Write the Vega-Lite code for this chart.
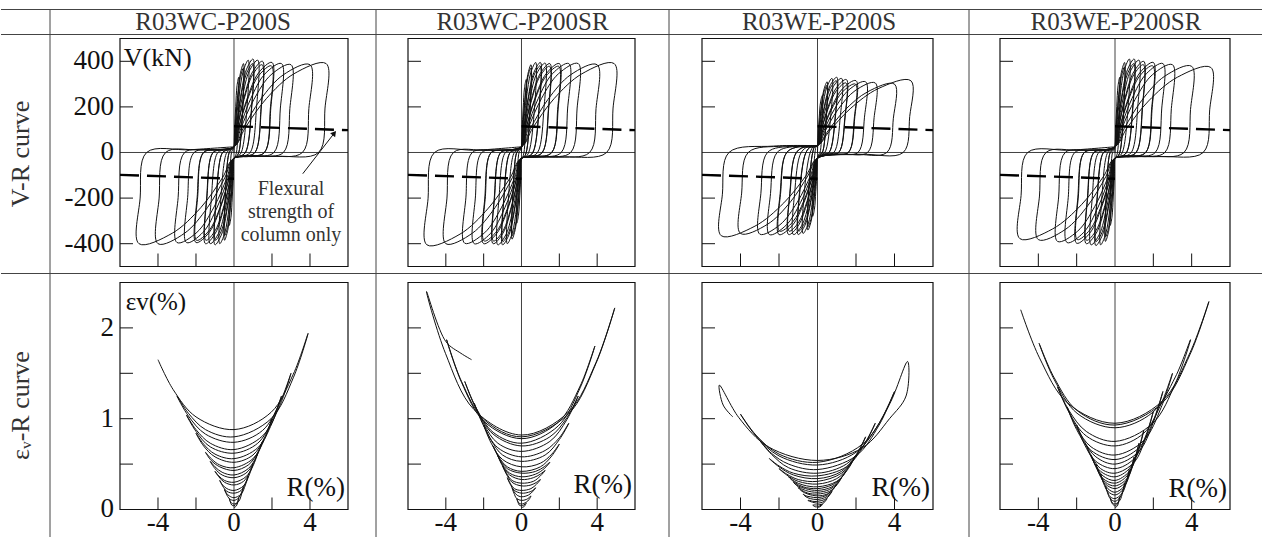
{
"$schema": "https://vega.github.io/schema/vega-lite/v6.json",
"padding": {"left": 0, "top": 8.5, "right": 0, "bottom": 0},
"background": "white",
"columns": 5,
"spacing": 0,
"bounds": "flush",
"align": "each",
"config": {"view": {"stroke": null}, "font": "Liberation Serif", "text": {"font": "Liberation Serif"}},
"datasets": {
"tx": [{"v": -4}, {"v": -2}, {"v": 2}, {"v": 4}],
"t1y": [{"v": -400}, {"v": -200}, {"v": 200}, {"v": 400}],
"l1y": [{"v": -400}, {"v": -200}, {"v": 0}, {"v": 200}, {"v": 400}],
"t2y": [{"v": 0.5}, {"v": 1}, {"v": 1.5}, {"v": 2}],
"l2x": [{"v": -4}, {"v": 0}, {"v": 4}],
"l2y": [{"v": 0}, {"v": 1}, {"v": 2}],
"vrBox": [{"x": -6, "x2": 6, "y": -500, "y2": 500}],
"vrZero": [{"x": -6, "x2": 6, "y": 0, "y2": 0}, {"x": 0, "x2": 0, "y": -500, "y2": 500}],
"vrDash": [{"x": 0, "x2": 6, "y": 115, "y2": 98}, {"x": -6, "x2": 0, "y": -98, "y2": -115}],
"evBox": [{"x": -6, "x2": 6, "y": 0, "y2": 2.5}],
"evZero": [{"x": 0, "x2": 0, "y": 0, "y2": 2.5}],
"vr1": [{"x":0,"y":0},
{"x":0.03,"y":94},{"x":0.09,"y":201},{"x":0.16,"y":293},{"x":0.25,"y":330},{"x":0.23,"y":165},{"x":0.13,"y":0},{"x":0.06,"y":-17},{"x":0,"y":-25},{"x":-0.03,"y":-92},{"x":-0.09,"y":-195},{"x":-0.16,"y":-284},{"x":-0.25,"y":-320},{"x":-0.23,"y":-160},{"x":-0.13,"y":0},{"x":-0.06,"y":12},{"x":0,"y":25},
{"x":0.06,"y":107},{"x":0.18,"y":236},{"x":0.33,"y":345},{"x":0.5,"y":390},{"x":0.46,"y":195},{"x":0.25,"y":0},{"x":0.13,"y":-17},{"x":0,"y":-25},{"x":-0.06,"y":-106},{"x":-0.18,"y":-233},{"x":-0.33,"y":-341},{"x":-0.5,"y":-385},{"x":-0.46,"y":-193},{"x":-0.25,"y":0},{"x":-0.13,"y":12},{"x":0,"y":25},
{"x":0.06,"y":103},{"x":0.18,"y":224},{"x":0.33,"y":328},{"x":0.49,"y":370},{"x":0.45,"y":185},{"x":0.25,"y":0},{"x":0.13,"y":-17},{"x":0,"y":-25},{"x":-0.06,"y":-102},{"x":-0.18,"y":-221},{"x":-0.33,"y":-323},{"x":-0.49,"y":-365},{"x":-0.45,"y":-183},{"x":-0.25,"y":0},{"x":-0.13,"y":12},{"x":0,"y":25},
{"x":0.09,"y":111},{"x":0.26,"y":244},{"x":0.49,"y":358},{"x":0.75,"y":405},{"x":0.69,"y":203},{"x":0.38,"y":0},{"x":0.19,"y":-17},{"x":0,"y":-25},{"x":-0.09,"y":-110},{"x":-0.26,"y":-242},{"x":-0.49,"y":-354},{"x":-0.75,"y":-400},{"x":-0.69,"y":-200},{"x":-0.38,"y":0},{"x":-0.19,"y":12},{"x":0,"y":25},
{"x":0.12,"y":112},{"x":0.35,"y":247},{"x":0.65,"y":363},{"x":1,"y":410},{"x":0.94,"y":205},{"x":0.6,"y":0},{"x":0.3,"y":-17},{"x":0,"y":-25},{"x":-0.12,"y":-111},{"x":-0.35,"y":-244},{"x":-0.65,"y":-358},{"x":-1,"y":-405},{"x":-0.94,"y":-203},{"x":-0.6,"y":0},{"x":-0.3,"y":12},{"x":0,"y":25},
{"x":0.12,"y":107},{"x":0.35,"y":236},{"x":0.65,"y":345},{"x":0.98,"y":390},{"x":0.92,"y":195},{"x":0.6,"y":0},{"x":0.3,"y":-17},{"x":0,"y":-25},{"x":-0.12,"y":-106},{"x":-0.35,"y":-233},{"x":-0.65,"y":-341},{"x":-0.98,"y":-385},{"x":-0.92,"y":-193},{"x":-0.6,"y":0},{"x":-0.3,"y":12},{"x":0,"y":25},
{"x":0.15,"y":111},{"x":0.44,"y":244},{"x":0.81,"y":358},{"x":1.25,"y":405},{"x":1.19,"y":203},{"x":0.85,"y":0},{"x":0.43,"y":-17},{"x":0,"y":-25},{"x":-0.15,"y":-110},{"x":-0.44,"y":-242},{"x":-0.81,"y":-354},{"x":-1.25,"y":-400},{"x":-1.19,"y":-200},{"x":-0.85,"y":0},{"x":-0.43,"y":12},{"x":0,"y":25},
{"x":0.18,"y":110},{"x":0.53,"y":242},{"x":0.98,"y":354},{"x":1.5,"y":400},{"x":1.44,"y":200},{"x":1.1,"y":0},{"x":0.55,"y":-17},{"x":0,"y":-25},{"x":-0.18,"y":-110},{"x":-0.53,"y":-242},{"x":-0.98,"y":-354},{"x":-1.5,"y":-400},{"x":-1.44,"y":-200},{"x":-1.1,"y":0},{"x":-0.55,"y":12},{"x":0,"y":25},
{"x":0.18,"y":106},{"x":0.53,"y":233},{"x":0.98,"y":341},{"x":1.48,"y":385},{"x":1.42,"y":193},{"x":1.1,"y":0},{"x":0.55,"y":-17},{"x":0,"y":-25},{"x":-0.18,"y":-106},{"x":-0.53,"y":-233},{"x":-0.98,"y":-341},{"x":-1.48,"y":-385},{"x":-1.42,"y":-193},{"x":-1.1,"y":0},{"x":-0.55,"y":12},{"x":0,"y":25},
{"x":0.24,"y":108},{"x":0.7,"y":239},{"x":1.3,"y":350},{"x":2,"y":395},{"x":1.94,"y":198},{"x":1.6,"y":0},{"x":0.8,"y":-17},{"x":0,"y":-25},{"x":-0.24,"y":-108},{"x":-0.7,"y":-239},{"x":-1.3,"y":-350},{"x":-2,"y":-395},{"x":-1.94,"y":-198},{"x":-1.6,"y":0},{"x":-0.8,"y":12},{"x":0,"y":25},
{"x":0.24,"y":105},{"x":0.7,"y":230},{"x":1.3,"y":337},{"x":1.97,"y":380},{"x":1.91,"y":190},{"x":1.6,"y":0},{"x":0.8,"y":-17},{"x":0,"y":-25},{"x":-0.24,"y":-106},{"x":-0.7,"y":-233},{"x":-1.3,"y":-341},{"x":-1.97,"y":-385},{"x":-1.91,"y":-193},{"x":-1.6,"y":0},{"x":-0.8,"y":12},{"x":0,"y":25},
{"x":0.3,"y":107},{"x":0.88,"y":236},{"x":1.63,"y":345},{"x":2.5,"y":390},{"x":2.44,"y":195},{"x":2.1,"y":0},{"x":1.05,"y":-17},{"x":0,"y":-25},{"x":-0.3,"y":-108},{"x":-0.88,"y":-239},{"x":-1.63,"y":-350},{"x":-2.5,"y":-395},{"x":-2.44,"y":-198},{"x":-2.1,"y":0},{"x":-1.05,"y":12},{"x":0,"y":25},
{"x":0.36,"y":106},{"x":1.05,"y":233},{"x":1.95,"y":341},{"x":3,"y":385},{"x":2.94,"y":193},{"x":2.6,"y":0},{"x":1.3,"y":-17},{"x":0,"y":-25},{"x":-0.36,"y":-108},{"x":-1.05,"y":-239},{"x":-1.95,"y":-350},{"x":-3,"y":-395},{"x":-2.94,"y":-198},{"x":-2.6,"y":0},{"x":-1.3,"y":12},{"x":0,"y":25},
{"x":0.48,"y":106},{"x":1.4,"y":233},{"x":2.6,"y":341},{"x":4,"y":385},{"x":3.94,"y":193},{"x":3.6,"y":0},{"x":1.8,"y":-17},{"x":0,"y":-25},{"x":-0.48,"y":-110},{"x":-1.4,"y":-242},{"x":-2.6,"y":-354},{"x":-4,"y":-400},{"x":-3.94,"y":-200},{"x":-3.6,"y":0},{"x":-1.8,"y":12},{"x":0,"y":25},
{"x":0.58,"y":107},{"x":1.7,"y":236},{"x":3.15,"y":345},{"x":4.85,"y":390},{"x":4.79,"y":195},{"x":4.45,"y":0},{"x":2.23,"y":-17},{"x":0,"y":-25},{"x":-0.6,"y":-110},{"x":-1.75,"y":-242},{"x":-3.25,"y":-354},{"x":-5,"y":-400},{"x":-4.94,"y":-200},{"x":-4.6,"y":0},{"x":-2.3,"y":12},{"x":0,"y":25}],
"vr2": [{"x":0,"y":0},
{"x":0.03,"y":92},{"x":0.09,"y":195},{"x":0.16,"y":284},{"x":0.25,"y":320},{"x":0.23,"y":160},{"x":0.13,"y":0},{"x":0.06,"y":-20},{"x":0,"y":-25},{"x":-0.03,"y":-89},{"x":-0.09,"y":-190},{"x":-0.16,"y":-275},{"x":-0.25,"y":-310},{"x":-0.23,"y":-155},{"x":-0.13,"y":0},{"x":-0.06,"y":10},{"x":0,"y":25},
{"x":0.06,"y":106},{"x":0.18,"y":233},{"x":0.33,"y":341},{"x":0.5,"y":385},{"x":0.46,"y":193},{"x":0.25,"y":0},{"x":0.13,"y":-20},{"x":0,"y":-25},{"x":-0.06,"y":-105},{"x":-0.18,"y":-230},{"x":-0.33,"y":-337},{"x":-0.5,"y":-380},{"x":-0.46,"y":-190},{"x":-0.25,"y":0},{"x":-0.13,"y":10},{"x":0,"y":25},
{"x":0.06,"y":103},{"x":0.18,"y":224},{"x":0.33,"y":328},{"x":0.49,"y":370},{"x":0.45,"y":185},{"x":0.25,"y":0},{"x":0.13,"y":-20},{"x":0,"y":-25},{"x":-0.06,"y":-102},{"x":-0.18,"y":-221},{"x":-0.33,"y":-323},{"x":-0.49,"y":-365},{"x":-0.45,"y":-183},{"x":-0.25,"y":0},{"x":-0.13,"y":10},{"x":0,"y":25},
{"x":0.09,"y":108},{"x":0.26,"y":239},{"x":0.49,"y":350},{"x":0.75,"y":395},{"x":0.69,"y":198},{"x":0.38,"y":0},{"x":0.19,"y":-20},{"x":0,"y":-25},{"x":-0.09,"y":-110},{"x":-0.26,"y":-242},{"x":-0.49,"y":-354},{"x":-0.75,"y":-400},{"x":-0.69,"y":-200},{"x":-0.38,"y":0},{"x":-0.19,"y":10},{"x":0,"y":25},
{"x":0.12,"y":108},{"x":0.35,"y":239},{"x":0.65,"y":350},{"x":1,"y":395},{"x":0.94,"y":198},{"x":0.6,"y":0},{"x":0.3,"y":-20},{"x":0,"y":-25},{"x":-0.12,"y":-111},{"x":-0.35,"y":-244},{"x":-0.65,"y":-358},{"x":-1,"y":-405},{"x":-0.94,"y":-203},{"x":-0.6,"y":0},{"x":-0.3,"y":10},{"x":0,"y":25},
{"x":0.12,"y":105},{"x":0.35,"y":230},{"x":0.65,"y":337},{"x":0.98,"y":380},{"x":0.92,"y":190},{"x":0.6,"y":0},{"x":0.3,"y":-20},{"x":0,"y":-25},{"x":-0.12,"y":-107},{"x":-0.35,"y":-236},{"x":-0.65,"y":-345},{"x":-0.98,"y":-390},{"x":-0.92,"y":-195},{"x":-0.6,"y":0},{"x":-0.3,"y":10},{"x":0,"y":25},
{"x":0.15,"y":108},{"x":0.44,"y":237},{"x":0.81,"y":347},{"x":1.25,"y":392},{"x":1.19,"y":196},{"x":0.85,"y":0},{"x":0.43,"y":-20},{"x":0,"y":-25},{"x":-0.15,"y":-111},{"x":-0.44,"y":-244},{"x":-0.81,"y":-358},{"x":-1.25,"y":-405},{"x":-1.19,"y":-203},{"x":-0.85,"y":0},{"x":-0.43,"y":10},{"x":0,"y":25},
{"x":0.18,"y":107},{"x":0.53,"y":236},{"x":0.98,"y":345},{"x":1.5,"y":390},{"x":1.44,"y":195},{"x":1.1,"y":0},{"x":0.55,"y":-20},{"x":0,"y":-25},{"x":-0.18,"y":-110},{"x":-0.53,"y":-242},{"x":-0.98,"y":-354},{"x":-1.5,"y":-400},{"x":-1.44,"y":-200},{"x":-1.1,"y":0},{"x":-0.55,"y":10},{"x":0,"y":25},
{"x":0.18,"y":105},{"x":0.53,"y":229},{"x":0.98,"y":335},{"x":1.48,"y":378},{"x":1.42,"y":189},{"x":1.1,"y":0},{"x":0.55,"y":-20},{"x":0,"y":-25},{"x":-0.18,"y":-107},{"x":-0.53,"y":-235},{"x":-0.98,"y":-344},{"x":-1.48,"y":-388},{"x":-1.42,"y":-194},{"x":-1.1,"y":0},{"x":-0.55,"y":10},{"x":0,"y":25},
{"x":0.24,"y":107},{"x":0.7,"y":236},{"x":1.3,"y":345},{"x":2,"y":390},{"x":1.94,"y":195},{"x":1.6,"y":0},{"x":0.8,"y":-20},{"x":0,"y":-25},{"x":-0.24,"y":-110},{"x":-0.7,"y":-242},{"x":-1.3,"y":-354},{"x":-2,"y":-400},{"x":-1.94,"y":-200},{"x":-1.6,"y":0},{"x":-0.8,"y":10},{"x":0,"y":25},
{"x":0.24,"y":105},{"x":0.7,"y":229},{"x":1.3,"y":335},{"x":1.97,"y":378},{"x":1.91,"y":189},{"x":1.6,"y":0},{"x":0.8,"y":-20},{"x":0,"y":-25},{"x":-0.24,"y":-107},{"x":-0.7,"y":-235},{"x":-1.3,"y":-344},{"x":-1.97,"y":-388},{"x":-1.91,"y":-194},{"x":-1.6,"y":0},{"x":-0.8,"y":10},{"x":0,"y":25},
{"x":0.3,"y":107},{"x":0.88,"y":236},{"x":1.63,"y":345},{"x":2.5,"y":390},{"x":2.44,"y":195},{"x":2.1,"y":0},{"x":1.05,"y":-20},{"x":0,"y":-25},{"x":-0.3,"y":-110},{"x":-0.88,"y":-242},{"x":-1.63,"y":-354},{"x":-2.5,"y":-400},{"x":-2.44,"y":-200},{"x":-2.1,"y":0},{"x":-1.05,"y":10},{"x":0,"y":25},
{"x":0.36,"y":107},{"x":1.05,"y":236},{"x":1.95,"y":345},{"x":3,"y":390},{"x":2.94,"y":195},{"x":2.6,"y":0},{"x":1.3,"y":-20},{"x":0,"y":-25},{"x":-0.36,"y":-109},{"x":-1.05,"y":-240},{"x":-1.95,"y":-352},{"x":-3,"y":-398},{"x":-2.94,"y":-199},{"x":-2.6,"y":0},{"x":-1.3,"y":10},{"x":0,"y":25},
{"x":0.48,"y":106},{"x":1.4,"y":233},{"x":2.6,"y":341},{"x":4,"y":385},{"x":3.94,"y":193},{"x":3.6,"y":0},{"x":1.8,"y":-20},{"x":0,"y":-25},{"x":-0.48,"y":-110},{"x":-1.4,"y":-242},{"x":-2.6,"y":-354},{"x":-4,"y":-400},{"x":-3.94,"y":-200},{"x":-3.6,"y":0},{"x":-1.8,"y":10},{"x":0,"y":25},
{"x":0.59,"y":107},{"x":1.72,"y":236},{"x":3.19,"y":345},{"x":4.9,"y":390},{"x":4.84,"y":195},{"x":4.5,"y":0},{"x":2.25,"y":-20},{"x":0,"y":-25},{"x":-0.6,"y":-111},{"x":-1.75,"y":-244},{"x":-3.25,"y":-358},{"x":-5,"y":-405},{"x":-4.94,"y":-203},{"x":-4.6,"y":0},{"x":-2.3,"y":10},{"x":0,"y":25}],
"vr3": [{"x":0,"y":0},
{"x":0.03,"y":76},{"x":0.09,"y":155},{"x":0.16,"y":222},{"x":0.25,"y":250},{"x":0.23,"y":125},{"x":0.13,"y":0},{"x":0.06,"y":-8},{"x":0,"y":-25},{"x":-0.03,"y":-83},{"x":-0.09,"y":-172},{"x":-0.16,"y":-249},{"x":-0.25,"y":-280},{"x":-0.23,"y":-140},{"x":-0.13,"y":0},{"x":-0.06,"y":28},{"x":0,"y":30},
{"x":0.06,"y":89},{"x":0.18,"y":190},{"x":0.33,"y":275},{"x":0.5,"y":310},{"x":0.46,"y":155},{"x":0.25,"y":0},{"x":0.13,"y":-8},{"x":0,"y":-25},{"x":-0.06,"y":-96},{"x":-0.18,"y":-207},{"x":-0.33,"y":-301},{"x":-0.5,"y":-340},{"x":-0.46,"y":-170},{"x":-0.25,"y":0},{"x":-0.13,"y":28},{"x":0,"y":30},
{"x":0.06,"y":86},{"x":0.18,"y":181},{"x":0.33,"y":262},{"x":0.49,"y":295},{"x":0.45,"y":148},{"x":0.25,"y":0},{"x":0.13,"y":-8},{"x":0,"y":-25},{"x":-0.06,"y":-93},{"x":-0.18,"y":-198},{"x":-0.33,"y":-288},{"x":-0.49,"y":-325},{"x":-0.45,"y":-163},{"x":-0.25,"y":0},{"x":-0.13,"y":28},{"x":0,"y":30},
{"x":0.09,"y":93},{"x":0.26,"y":198},{"x":0.49,"y":288},{"x":0.75,"y":325},{"x":0.69,"y":163},{"x":0.38,"y":0},{"x":0.19,"y":-8},{"x":0,"y":-25},{"x":-0.09,"y":-99},{"x":-0.26,"y":-216},{"x":-0.49,"y":-315},{"x":-0.75,"y":-355},{"x":-0.69,"y":-178},{"x":-0.38,"y":0},{"x":-0.19,"y":28},{"x":0,"y":30},
{"x":0.12,"y":94},{"x":0.35,"y":201},{"x":0.65,"y":293},{"x":1,"y":330},{"x":0.94,"y":165},{"x":0.6,"y":0},{"x":0.3,"y":-8},{"x":0,"y":-25},{"x":-0.12,"y":-101},{"x":-0.35,"y":-219},{"x":-0.65,"y":-319},{"x":-1,"y":-360},{"x":-0.94,"y":-180},{"x":-0.6,"y":0},{"x":-0.3,"y":28},{"x":0,"y":30},
{"x":0.12,"y":90},{"x":0.35,"y":192},{"x":0.65,"y":280},{"x":0.98,"y":315},{"x":0.92,"y":158},{"x":0.6,"y":0},{"x":0.3,"y":-8},{"x":0,"y":-25},{"x":-0.12,"y":-97},{"x":-0.35,"y":-210},{"x":-0.65,"y":-306},{"x":-0.98,"y":-345},{"x":-0.92,"y":-173},{"x":-0.6,"y":0},{"x":-0.3,"y":28},{"x":0,"y":30},
{"x":0.15,"y":93},{"x":0.44,"y":198},{"x":0.81,"y":288},{"x":1.25,"y":325},{"x":1.19,"y":163},{"x":0.85,"y":0},{"x":0.43,"y":-8},{"x":0,"y":-25},{"x":-0.15,"y":-101},{"x":-0.44,"y":-219},{"x":-0.81,"y":-319},{"x":-1.25,"y":-360},{"x":-1.19,"y":-180},{"x":-0.85,"y":0},{"x":-0.43,"y":28},{"x":0,"y":30},
{"x":0.18,"y":92},{"x":0.53,"y":195},{"x":0.98,"y":284},{"x":1.5,"y":320},{"x":1.44,"y":160},{"x":1.1,"y":0},{"x":0.55,"y":-8},{"x":0,"y":-25},{"x":-0.18,"y":-101},{"x":-0.53,"y":-219},{"x":-0.98,"y":-319},{"x":-1.5,"y":-360},{"x":-1.44,"y":-180},{"x":-1.1,"y":0},{"x":-0.55,"y":28},{"x":0,"y":30},
{"x":0.18,"y":88},{"x":0.53,"y":187},{"x":0.98,"y":271},{"x":1.48,"y":305},{"x":1.42,"y":153},{"x":1.1,"y":0},{"x":0.55,"y":-8},{"x":0,"y":-25},{"x":-0.18,"y":-97},{"x":-0.53,"y":-210},{"x":-0.98,"y":-306},{"x":-1.48,"y":-345},{"x":-1.42,"y":-173},{"x":-1.1,"y":0},{"x":-0.55,"y":28},{"x":0,"y":30},
{"x":0.24,"y":90},{"x":0.7,"y":192},{"x":1.3,"y":280},{"x":2,"y":315},{"x":1.94,"y":158},{"x":1.6,"y":0},{"x":0.8,"y":-8},{"x":0,"y":-25},{"x":-0.24,"y":-101},{"x":-0.7,"y":-219},{"x":-1.3,"y":-319},{"x":-2,"y":-360},{"x":-1.94,"y":-180},{"x":-1.6,"y":0},{"x":-0.8,"y":28},{"x":0,"y":30},
{"x":0.24,"y":87},{"x":0.7,"y":184},{"x":1.3,"y":266},{"x":1.97,"y":300},{"x":1.91,"y":150},{"x":1.6,"y":0},{"x":0.8,"y":-8},{"x":0,"y":-25},{"x":-0.24,"y":-97},{"x":-0.7,"y":-210},{"x":-1.3,"y":-306},{"x":-1.97,"y":-345},{"x":-1.91,"y":-173},{"x":-1.6,"y":0},{"x":-0.8,"y":28},{"x":0,"y":30},
{"x":0.3,"y":89},{"x":0.88,"y":190},{"x":1.63,"y":275},{"x":2.5,"y":310},{"x":2.44,"y":155},{"x":2.1,"y":0},{"x":1.05,"y":-8},{"x":0,"y":-25},{"x":-0.3,"y":-101},{"x":-0.88,"y":-219},{"x":-1.63,"y":-319},{"x":-2.5,"y":-360},{"x":-2.44,"y":-180},{"x":-2.1,"y":0},{"x":-1.05,"y":28},{"x":0,"y":30},
{"x":0.36,"y":88},{"x":1.05,"y":187},{"x":1.95,"y":271},{"x":3,"y":305},{"x":2.94,"y":153},{"x":2.6,"y":0},{"x":1.3,"y":-8},{"x":0,"y":-25},{"x":-0.36,"y":-101},{"x":-1.05,"y":-218},{"x":-1.95,"y":-317},{"x":-3,"y":-358},{"x":-2.94,"y":-179},{"x":-2.6,"y":0},{"x":-1.3,"y":28},{"x":0,"y":30},
{"x":0.48,"y":87},{"x":1.4,"y":184},{"x":2.6,"y":266},{"x":4,"y":300},{"x":3.94,"y":150},{"x":3.6,"y":0},{"x":1.8,"y":-8},{"x":0,"y":-25},{"x":-0.48,"y":-99},{"x":-1.4,"y":-216},{"x":-2.6,"y":-315},{"x":-4,"y":-355},{"x":-3.94,"y":-178},{"x":-3.6,"y":0},{"x":-1.8,"y":28},{"x":0,"y":30},
{"x":0.58,"y":90},{"x":1.7,"y":192},{"x":3.15,"y":280},{"x":4.85,"y":315},{"x":4.79,"y":158},{"x":4.45,"y":0},{"x":2.23,"y":-8},{"x":0,"y":-25},{"x":-0.6,"y":-102},{"x":-1.75,"y":-221},{"x":-3.25,"y":-323},{"x":-5,"y":-365},{"x":-4.94,"y":-183},{"x":-4.6,"y":0},{"x":-2.3,"y":28},{"x":0,"y":30}],
"vr4": [{"x":0,"y":0},
{"x":0.03,"y":94},{"x":0.09,"y":201},{"x":0.16,"y":293},{"x":0.25,"y":330},{"x":0.23,"y":165},{"x":0.13,"y":0},{"x":0.06,"y":-18},{"x":0,"y":-25},{"x":-0.03,"y":-92},{"x":-0.09,"y":-195},{"x":-0.16,"y":-284},{"x":-0.25,"y":-320},{"x":-0.23,"y":-160},{"x":-0.13,"y":0},{"x":-0.06,"y":10},{"x":0,"y":25},
{"x":0.06,"y":108},{"x":0.18,"y":239},{"x":0.33,"y":350},{"x":0.5,"y":395},{"x":0.46,"y":198},{"x":0.25,"y":0},{"x":0.13,"y":-18},{"x":0,"y":-25},{"x":-0.06,"y":-107},{"x":-0.18,"y":-236},{"x":-0.33,"y":-345},{"x":-0.5,"y":-390},{"x":-0.46,"y":-195},{"x":-0.25,"y":0},{"x":-0.13,"y":10},{"x":0,"y":25},
{"x":0.06,"y":104},{"x":0.18,"y":227},{"x":0.33,"y":332},{"x":0.49,"y":375},{"x":0.45,"y":188},{"x":0.25,"y":0},{"x":0.13,"y":-18},{"x":0,"y":-25},{"x":-0.06,"y":-103},{"x":-0.18,"y":-224},{"x":-0.33,"y":-328},{"x":-0.49,"y":-370},{"x":-0.45,"y":-185},{"x":-0.25,"y":0},{"x":-0.13,"y":10},{"x":0,"y":25},
{"x":0.09,"y":112},{"x":0.26,"y":247},{"x":0.49,"y":363},{"x":0.75,"y":410},{"x":0.69,"y":205},{"x":0.38,"y":0},{"x":0.19,"y":-18},{"x":0,"y":-25},{"x":-0.09,"y":-111},{"x":-0.26,"y":-244},{"x":-0.49,"y":-358},{"x":-0.75,"y":-405},{"x":-0.69,"y":-203},{"x":-0.38,"y":0},{"x":-0.19,"y":10},{"x":0,"y":25},
{"x":0.12,"y":112},{"x":0.35,"y":247},{"x":0.65,"y":363},{"x":1,"y":410},{"x":0.94,"y":205},{"x":0.6,"y":0},{"x":0.3,"y":-18},{"x":0,"y":-25},{"x":-0.12,"y":-111},{"x":-0.35,"y":-246},{"x":-0.65,"y":-361},{"x":-1,"y":-408},{"x":-0.94,"y":-204},{"x":-0.6,"y":0},{"x":-0.3,"y":10},{"x":0,"y":25},
{"x":0.12,"y":107},{"x":0.35,"y":236},{"x":0.65,"y":345},{"x":0.98,"y":390},{"x":0.92,"y":195},{"x":0.6,"y":0},{"x":0.3,"y":-18},{"x":0,"y":-25},{"x":-0.12,"y":-107},{"x":-0.35,"y":-236},{"x":-0.65,"y":-345},{"x":-0.98,"y":-390},{"x":-0.92,"y":-195},{"x":-0.6,"y":0},{"x":-0.3,"y":10},{"x":0,"y":25},
{"x":0.15,"y":111},{"x":0.44,"y":244},{"x":0.81,"y":358},{"x":1.25,"y":405},{"x":1.19,"y":203},{"x":0.85,"y":0},{"x":0.43,"y":-18},{"x":0,"y":-25},{"x":-0.15,"y":-111},{"x":-0.44,"y":-244},{"x":-0.81,"y":-358},{"x":-1.25,"y":-405},{"x":-1.19,"y":-203},{"x":-0.85,"y":0},{"x":-0.43,"y":10},{"x":0,"y":25},
{"x":0.18,"y":110},{"x":0.53,"y":242},{"x":0.98,"y":354},{"x":1.5,"y":400},{"x":1.44,"y":200},{"x":1.1,"y":0},{"x":0.55,"y":-18},{"x":0,"y":-25},{"x":-0.18,"y":-110},{"x":-0.53,"y":-242},{"x":-0.98,"y":-354},{"x":-1.5,"y":-400},{"x":-1.44,"y":-200},{"x":-1.1,"y":0},{"x":-0.55,"y":10},{"x":0,"y":25},
{"x":0.18,"y":106},{"x":0.53,"y":233},{"x":0.98,"y":341},{"x":1.48,"y":385},{"x":1.42,"y":193},{"x":1.1,"y":0},{"x":0.55,"y":-18},{"x":0,"y":-25},{"x":-0.18,"y":-106},{"x":-0.53,"y":-233},{"x":-0.98,"y":-341},{"x":-1.48,"y":-385},{"x":-1.42,"y":-193},{"x":-1.1,"y":0},{"x":-0.55,"y":10},{"x":0,"y":25},
{"x":0.24,"y":108},{"x":0.7,"y":239},{"x":1.3,"y":350},{"x":2,"y":395},{"x":1.94,"y":198},{"x":1.6,"y":0},{"x":0.8,"y":-18},{"x":0,"y":-25},{"x":-0.24,"y":-109},{"x":-0.7,"y":-240},{"x":-1.3,"y":-352},{"x":-2,"y":-398},{"x":-1.94,"y":-199},{"x":-1.6,"y":0},{"x":-0.8,"y":10},{"x":0,"y":25},
{"x":0.24,"y":105},{"x":0.7,"y":230},{"x":1.3,"y":337},{"x":1.97,"y":380},{"x":1.91,"y":190},{"x":1.6,"y":0},{"x":0.8,"y":-18},{"x":0,"y":-25},{"x":-0.24,"y":-106},{"x":-0.7,"y":-231},{"x":-1.3,"y":-338},{"x":-1.97,"y":-382},{"x":-1.91,"y":-191},{"x":-1.6,"y":0},{"x":-0.8,"y":10},{"x":0,"y":25},
{"x":0.3,"y":107},{"x":0.88,"y":236},{"x":1.63,"y":345},{"x":2.5,"y":390},{"x":2.44,"y":195},{"x":2.1,"y":0},{"x":1.05,"y":-18},{"x":0,"y":-25},{"x":-0.3,"y":-108},{"x":-0.88,"y":-239},{"x":-1.63,"y":-350},{"x":-2.5,"y":-395},{"x":-2.44,"y":-198},{"x":-2.1,"y":0},{"x":-1.05,"y":10},{"x":0,"y":25},
{"x":0.36,"y":106},{"x":1.05,"y":233},{"x":1.95,"y":341},{"x":3,"y":385},{"x":2.94,"y":193},{"x":2.6,"y":0},{"x":1.3,"y":-18},{"x":0,"y":-25},{"x":-0.36,"y":-107},{"x":-1.05,"y":-236},{"x":-1.95,"y":-345},{"x":-3,"y":-390},{"x":-2.94,"y":-195},{"x":-2.6,"y":0},{"x":-1.3,"y":10},{"x":0,"y":25},
{"x":0.48,"y":105},{"x":1.4,"y":229},{"x":2.6,"y":335},{"x":4,"y":378},{"x":3.94,"y":189},{"x":3.6,"y":0},{"x":1.8,"y":-18},{"x":0,"y":-25},{"x":-0.48,"y":-106},{"x":-1.4,"y":-231},{"x":-2.6,"y":-338},{"x":-4,"y":-382},{"x":-3.94,"y":-191},{"x":-3.6,"y":0},{"x":-1.8,"y":10},{"x":0,"y":25},
{"x":0.6,"y":104},{"x":1.75,"y":226},{"x":3.25,"y":330},{"x":5,"y":373},{"x":4.94,"y":187},{"x":4.6,"y":0},{"x":2.3,"y":-18},{"x":0,"y":-25},{"x":-0.6,"y":-105},{"x":-1.75,"y":-229},{"x":-3.25,"y":-335},{"x":-4.96,"y":-378},{"x":-4.9,"y":-189},{"x":-4.56,"y":0},{"x":-2.3,"y":10},{"x":0,"y":25}],
"ev1": [{"x":0,"y":0.02},
{"x":0.125,"y":0.04},{"x":0.2,"y":0.08},{"x":0.25,"y":0.13},{"x":0.2,"y":0.09},{"x":0.125,"y":0.06},{"x":0,"y":0.04},{"x":-0.125,"y":0.05},{"x":-0.2,"y":0.09},{"x":-0.25,"y":0.12},{"x":-0.2,"y":0.09},{"x":-0.125,"y":0.07},{"x":0,"y":0.06},
{"x":0.25,"y":0.09},{"x":0.4,"y":0.17},{"x":0.5,"y":0.25},{"x":0.4,"y":0.19},{"x":0.25,"y":0.13},{"x":0,"y":0.1},{"x":-0.25,"y":0.12},{"x":-0.4,"y":0.17},{"x":-0.5,"y":0.22},{"x":-0.4,"y":0.18},{"x":-0.25,"y":0.15},{"x":0,"y":0.13},
{"x":0.375,"y":0.17},{"x":0.6,"y":0.27},{"x":0.75,"y":0.37},{"x":0.6,"y":0.29},{"x":0.375,"y":0.21},{"x":0,"y":0.18},{"x":-0.375,"y":0.2},{"x":-0.6,"y":0.26},{"x":-0.75,"y":0.32},{"x":-0.6,"y":0.27},{"x":-0.375,"y":0.23},{"x":0,"y":0.21},
{"x":0.5,"y":0.26},{"x":0.8,"y":0.38},{"x":1,"y":0.5},{"x":0.8,"y":0.4},{"x":0.5,"y":0.31},{"x":0,"y":0.27},{"x":-0.5,"y":0.3},{"x":-0.8,"y":0.36},{"x":-1,"y":0.42},{"x":-0.8,"y":0.37},{"x":-0.5,"y":0.32},{"x":0,"y":0.3},
{"x":0.625,"y":0.36},{"x":1,"y":0.48},{"x":1.25,"y":0.62},{"x":1,"y":0.5},{"x":0.625,"y":0.4},{"x":0,"y":0.35},{"x":-0.625,"y":0.38},{"x":-1,"y":0.45},{"x":-1.25,"y":0.53},{"x":-1,"y":0.47},{"x":-0.625,"y":0.41},{"x":0,"y":0.38},
{"x":0.75,"y":0.45},{"x":1.2,"y":0.59},{"x":1.5,"y":0.75},{"x":1.2,"y":0.61},{"x":0.75,"y":0.49},{"x":0,"y":0.43},{"x":-0.75,"y":0.47},{"x":-1.2,"y":0.54},{"x":-1.5,"y":0.63},{"x":-1.2,"y":0.56},{"x":-0.75,"y":0.49},{"x":0,"y":0.46},
{"x":1,"y":0.56},{"x":1.6,"y":0.77},{"x":2,"y":1},{"x":1.6,"y":0.79},{"x":1,"y":0.6},{"x":0,"y":0.52},{"x":-1,"y":0.58},{"x":-1.6,"y":0.7},{"x":-2,"y":0.84},{"x":-1.6,"y":0.72},{"x":-1,"y":0.61},{"x":0,"y":0.56},
{"x":1.25,"y":0.68},{"x":2,"y":0.95},{"x":2.5,"y":1.25},{"x":2,"y":0.98},{"x":1.25,"y":0.73},{"x":0,"y":0.62},{"x":-1.25,"y":0.69},{"x":-2,"y":0.86},{"x":-2.5,"y":1.04},{"x":-2,"y":0.88},{"x":-1.25,"y":0.73},{"x":0,"y":0.66},
{"x":1.5,"y":0.81},{"x":2.4,"y":1.14},{"x":3,"y":1.5},{"x":2.4,"y":1.17},{"x":1.5,"y":0.87},{"x":0,"y":0.74},{"x":-1.5,"y":0.83},{"x":-2.4,"y":1.03},{"x":-3,"y":1.25},{"x":-2.4,"y":1.06},{"x":-1.5,"y":0.88},{"x":0,"y":0.8},
{"x":1.95,"y":1},{"x":3.12,"y":1.45},{"x":3.9,"y":1.94},{"x":3.12,"y":1.49},{"x":1.95,"y":1.07},{"x":0,"y":0.88},{"x":-2,"y":1.02},{"x":-3.2,"y":1.32},{"x":-4,"y":1.65}],
"ev2": [{"x":0,"y":0.02},
{"x":0.125,"y":0.03},{"x":0.2,"y":0.05},{"x":0.25,"y":0.07},{"x":0.2,"y":0.06},{"x":0.125,"y":0.05},{"x":0,"y":0.04},{"x":-0.125,"y":0.05},{"x":-0.2,"y":0.09},{"x":-0.25,"y":0.12},{"x":-0.2,"y":0.09},{"x":-0.125,"y":0.07},{"x":0,"y":0.06},
{"x":0.25,"y":0.08},{"x":0.4,"y":0.11},{"x":0.5,"y":0.15},{"x":0.4,"y":0.13},{"x":0.25,"y":0.11},{"x":0,"y":0.1},{"x":-0.25,"y":0.12},{"x":-0.4,"y":0.18},{"x":-0.5,"y":0.24},{"x":-0.4,"y":0.2},{"x":-0.25,"y":0.16},{"x":0,"y":0.14},
{"x":0.375,"y":0.16},{"x":0.6,"y":0.2},{"x":0.75,"y":0.24},{"x":0.6,"y":0.21},{"x":0.375,"y":0.19},{"x":0,"y":0.18},{"x":-0.375,"y":0.21},{"x":-0.6,"y":0.28},{"x":-0.75,"y":0.35},{"x":-0.6,"y":0.29},{"x":-0.375,"y":0.23},{"x":0,"y":0.21},
{"x":0.5,"y":0.23},{"x":0.8,"y":0.28},{"x":1,"y":0.33},{"x":0.8,"y":0.3},{"x":0.5,"y":0.27},{"x":0,"y":0.26},{"x":-0.5,"y":0.3},{"x":-0.8,"y":0.39},{"x":-1,"y":0.48},{"x":-0.8,"y":0.4},{"x":-0.5,"y":0.32},{"x":0,"y":0.29},
{"x":0.625,"y":0.31},{"x":1,"y":0.37},{"x":1.25,"y":0.43},{"x":1,"y":0.39},{"x":0.625,"y":0.35},{"x":0,"y":0.33},{"x":-0.625,"y":0.38},{"x":-1,"y":0.48},{"x":-1.25,"y":0.59},{"x":-1,"y":0.49},{"x":-0.625,"y":0.4},{"x":0,"y":0.36},
{"x":0.75,"y":0.39},{"x":1.2,"y":0.45},{"x":1.5,"y":0.52},{"x":1.2,"y":0.47},{"x":0.75,"y":0.42},{"x":0,"y":0.4},{"x":-0.75,"y":0.45},{"x":-1.2,"y":0.57},{"x":-1.5,"y":0.7},{"x":-1.2,"y":0.58},{"x":-0.75,"y":0.47},{"x":0,"y":0.42},
{"x":1,"y":0.47},{"x":1.6,"y":0.59},{"x":2,"y":0.72},{"x":1.6,"y":0.61},{"x":1,"y":0.51},{"x":0,"y":0.47},{"x":-1,"y":0.55},{"x":-1.6,"y":0.73},{"x":-2,"y":0.93},{"x":-1.6,"y":0.76},{"x":-1,"y":0.6},{"x":0,"y":0.53},
{"x":1.25,"y":0.6},{"x":2,"y":0.77},{"x":2.5,"y":0.95},{"x":2,"y":0.79},{"x":1.25,"y":0.65},{"x":0,"y":0.58},{"x":-1.25,"y":0.68},{"x":-2,"y":0.92},{"x":-2.5,"y":1.17},{"x":-2,"y":0.94},{"x":-1.25,"y":0.73},{"x":0,"y":0.64},
{"x":1.5,"y":0.75},{"x":2.4,"y":0.99},{"x":3,"y":1.25},{"x":2.4,"y":1.01},{"x":1.5,"y":0.8},{"x":0,"y":0.7},{"x":-1.5,"y":0.83},{"x":-2.4,"y":1.11},{"x":-3,"y":1.41},{"x":-2.4,"y":1.12},{"x":-1.5,"y":0.85},{"x":0,"y":0.73},
{"x":1.94,"y":0.92},{"x":3.1,"y":1.34},{"x":3.88,"y":1.8},{"x":3.1,"y":1.36},{"x":1.94,"y":0.96},{"x":0,"y":0.78},{"x":-1.98,"y":0.97},{"x":-3.17,"y":1.4},{"x":-3.96,"y":1.87},{"x":-3.17,"y":1.41},{"x":-1.98,"y":0.99},{"x":0,"y":0.8},
{"x":2.47,"y":1.05},{"x":3.94,"y":1.61},{"x":4.93,"y":2.22},{"x":3.94,"y":1.62},{"x":2.47,"y":1.07},{"x":0,"y":0.82},{"x":-2.51,"y":1.1},{"x":-4.02,"y":1.72},{"x":-5.02,"y":2.4},{"x":-4,"y":1.85},{"x":-3.2,"y":1.72},{"x":-2.64,"y":1.65}],
"ev3": [{"x":0,"y":0.02},
{"x":0.125,"y":0.03},{"x":0.2,"y":0.04},{"x":0.25,"y":0.06},{"x":0.2,"y":0.05},{"x":0.125,"y":0.04},{"x":0,"y":0.03},{"x":-0.125,"y":0.03},{"x":-0.2,"y":0.04},{"x":-0.25,"y":0.05},{"x":-0.2,"y":0.05},{"x":-0.125,"y":0.05},{"x":0,"y":0.05},
{"x":0.25,"y":0.06},{"x":0.4,"y":0.09},{"x":0.5,"y":0.12},{"x":0.4,"y":0.1},{"x":0.25,"y":0.08},{"x":0,"y":0.07},{"x":-0.25,"y":0.08},{"x":-0.4,"y":0.09},{"x":-0.5,"y":0.1},{"x":-0.4,"y":0.1},{"x":-0.25,"y":0.09},{"x":0,"y":0.09},
{"x":0.375,"y":0.11},{"x":0.6,"y":0.15},{"x":0.75,"y":0.2},{"x":0.6,"y":0.16},{"x":0.375,"y":0.13},{"x":0,"y":0.11},{"x":-0.375,"y":0.12},{"x":-0.6,"y":0.14},{"x":-0.75,"y":0.17},{"x":-0.6,"y":0.15},{"x":-0.375,"y":0.14},{"x":0,"y":0.13},
{"x":0.5,"y":0.16},{"x":0.8,"y":0.22},{"x":1,"y":0.28},{"x":0.8,"y":0.22},{"x":0.5,"y":0.17},{"x":0,"y":0.15},{"x":-0.5,"y":0.17},{"x":-0.8,"y":0.2},{"x":-1,"y":0.24},{"x":-0.8,"y":0.21},{"x":-0.5,"y":0.18},{"x":0,"y":0.17},
{"x":0.625,"y":0.2},{"x":1,"y":0.27},{"x":1.25,"y":0.35},{"x":1,"y":0.28},{"x":0.625,"y":0.22},{"x":0,"y":0.19},{"x":-0.625,"y":0.21},{"x":-1,"y":0.25},{"x":-1.25,"y":0.3},{"x":-1,"y":0.26},{"x":-0.625,"y":0.23},{"x":0,"y":0.21},
{"x":0.75,"y":0.25},{"x":1.2,"y":0.34},{"x":1.5,"y":0.43},{"x":1.2,"y":0.34},{"x":0.75,"y":0.27},{"x":0,"y":0.23},{"x":-0.75,"y":0.25},{"x":-1.2,"y":0.3},{"x":-1.5,"y":0.36},{"x":-1.2,"y":0.31},{"x":-0.75,"y":0.27},{"x":0,"y":0.25},
{"x":1,"y":0.31},{"x":1.6,"y":0.45},{"x":2,"y":0.6},{"x":1.6,"y":0.46},{"x":1,"y":0.34},{"x":0,"y":0.28},{"x":-1,"y":0.31},{"x":-1.6,"y":0.38},{"x":-2,"y":0.45},{"x":-1.6,"y":0.39},{"x":-1,"y":0.33},{"x":0,"y":0.31},
{"x":1.25,"y":0.4},{"x":2,"y":0.59},{"x":2.5,"y":0.8},{"x":2,"y":0.6},{"x":1.25,"y":0.42},{"x":0,"y":0.34},{"x":-1.25,"y":0.38},{"x":-2,"y":0.47},{"x":-2.5,"y":0.56},{"x":-2,"y":0.48},{"x":-1.25,"y":0.4},{"x":0,"y":0.37},
{"x":1.5,"y":0.47},{"x":2.4,"y":0.7},{"x":3,"y":0.95},{"x":2.4,"y":0.71},{"x":1.5,"y":0.5},{"x":0,"y":0.4},{"x":-1.5,"y":0.46},{"x":-2.4,"y":0.61},{"x":-3,"y":0.76},{"x":-2.4,"y":0.62},{"x":-1.5,"y":0.5},{"x":0,"y":0.44},
{"x":2,"y":0.59},{"x":3.2,"y":0.93},{"x":4,"y":1.3},{"x":3.2,"y":0.95},{"x":2,"y":0.63},{"x":0,"y":0.49},{"x":-2,"y":0.59},{"x":-3.2,"y":0.81},{"x":-4,"y":1.05},{"x":-3.2,"y":0.82},{"x":-2,"y":0.61},{"x":0,"y":0.52},
{"x":2.34,"y":0.72},{"x":3.74,"y":1.16},{"x":4.68,"y":1.63},{"x":4.6,"y":1.25},{"x":3.74,"y":1},{"x":2.34,"y":0.68},{"x":0,"y":0.54},{"x":-2.55,"y":0.69},{"x":-4.08,"y":1.01},{"x":-5.1,"y":1.37},{"x":-4.9,"y":1.15},{"x":-4.4,"y":1.02}],
"ev4": [{"x":0,"y":0.02},
{"x":0.125,"y":0.04},{"x":0.2,"y":0.09},{"x":0.25,"y":0.14},{"x":0.2,"y":0.1},{"x":0.125,"y":0.06},{"x":0,"y":0.04},{"x":-0.125,"y":0.06},{"x":-0.2,"y":0.09},{"x":-0.25,"y":0.13},{"x":-0.2,"y":0.1},{"x":-0.125,"y":0.07},{"x":0,"y":0.06},
{"x":0.25,"y":0.1},{"x":0.4,"y":0.19},{"x":0.5,"y":0.29},{"x":0.4,"y":0.2},{"x":0.25,"y":0.13},{"x":0,"y":0.09},{"x":-0.25,"y":0.12},{"x":-0.4,"y":0.19},{"x":-0.5,"y":0.26},{"x":-0.4,"y":0.2},{"x":-0.25,"y":0.14},{"x":0,"y":0.12},
{"x":0.375,"y":0.18},{"x":0.6,"y":0.3},{"x":0.75,"y":0.44},{"x":0.6,"y":0.32},{"x":0.375,"y":0.21},{"x":0,"y":0.16},{"x":-0.375,"y":0.2},{"x":-0.6,"y":0.29},{"x":-0.75,"y":0.39},{"x":-0.6,"y":0.3},{"x":-0.375,"y":0.23},{"x":0,"y":0.19},
{"x":0.5,"y":0.26},{"x":0.8,"y":0.41},{"x":1,"y":0.58},{"x":0.8,"y":0.43},{"x":0.5,"y":0.29},{"x":0,"y":0.23},{"x":-0.5,"y":0.28},{"x":-0.8,"y":0.38},{"x":-1,"y":0.5},{"x":-0.8,"y":0.4},{"x":-0.5,"y":0.3},{"x":0,"y":0.26},
{"x":0.625,"y":0.34},{"x":1,"y":0.53},{"x":1.25,"y":0.73},{"x":1,"y":0.54},{"x":0.625,"y":0.37},{"x":0,"y":0.29},{"x":-0.625,"y":0.34},{"x":-1,"y":0.47},{"x":-1.25,"y":0.6},{"x":-1,"y":0.48},{"x":-0.625,"y":0.37},{"x":0,"y":0.32},
{"x":0.75,"y":0.42},{"x":1.2,"y":0.63},{"x":1.5,"y":0.87},{"x":1.2,"y":0.65},{"x":0.75,"y":0.45},{"x":0,"y":0.36},{"x":-0.75,"y":0.42},{"x":-1.2,"y":0.56},{"x":-1.5,"y":0.71},{"x":-1.2,"y":0.58},{"x":-0.75,"y":0.45},{"x":0,"y":0.4},
{"x":1,"y":0.52},{"x":1.6,"y":0.79},{"x":2,"y":1.08},{"x":1.6,"y":0.81},{"x":1,"y":0.56},{"x":0,"y":0.45},{"x":-1,"y":0.53},{"x":-1.6,"y":0.72},{"x":-2,"y":0.93},{"x":-1.6,"y":0.75},{"x":-1,"y":0.58},{"x":0,"y":0.5},
{"x":1.25,"y":0.64},{"x":2,"y":0.96},{"x":2.5,"y":1.3},{"x":2,"y":0.98},{"x":1.25,"y":0.68},{"x":0,"y":0.55},{"x":-1.25,"y":0.65},{"x":-2,"y":0.88},{"x":-2.5,"y":1.13},{"x":-2,"y":0.9},{"x":-1.25,"y":0.69},{"x":0,"y":0.6},
{"x":1.5,"y":0.76},{"x":2.4,"y":1.12},{"x":3,"y":1.5},{"x":2.4,"y":1.16},{"x":1.5,"y":0.84},{"x":0,"y":0.7},{"x":-1.5,"y":0.81},{"x":-2.4,"y":1.07},{"x":-3,"y":1.35},{"x":-2.4,"y":1.09},{"x":-1.5,"y":0.86},{"x":0,"y":0.75},
{"x":1.97,"y":0.95},{"x":3.15,"y":1.39},{"x":3.94,"y":1.87},{"x":3.15,"y":1.46},{"x":1.97,"y":1.07},{"x":0,"y":0.9},{"x":-1.98,"y":1.06},{"x":-3.17,"y":1.43},{"x":-3.96,"y":1.83},{"x":-3.17,"y":1.45},{"x":-1.98,"y":1.09},{"x":0,"y":0.93},
{"x":2.45,"y":1.17},{"x":3.92,"y":1.71},{"x":4.9,"y":2.29},{"x":3.92,"y":1.73},{"x":2.45,"y":1.19},{"x":0,"y":0.95},{"x":-2.46,"y":1.17},{"x":-3.94,"y":1.67},{"x":-4.92,"y":2.2}]
},
"concat": [
 {"width": 49, "height": 25, "layer": [
  {"data": {"values": [{}]}, "mark": {"type": "rule", "color": "#444"}, "encoding": {"x": {"datum": 0, "type": "quantitative", "scale": {"domain": [0, 1], "nice": false}, "axis": null}, "x2": {"datum": 1}, "y": {"datum": 1, "type": "quantitative", "scale": {"domain": [0, 1], "nice": false}, "axis": null}}}
 ]},
 {"width": 326, "height": 25, "layer": [
  {"data": {"values": [{}]}, "mark": {"type": "text", "text": "R03WC-P200S", "fontSize": 25, "color": "#333"}},
  {"data": {"values": [{}]}, "mark": {"type": "rule", "color": "#444"}, "encoding": {"x": {"datum": 0, "type": "quantitative", "scale": {"domain": [0, 1], "nice": false}, "axis": null}, "x2": {"datum": 1}, "y": {"datum": 1, "type": "quantitative", "scale": {"domain": [0, 1], "nice": false}, "axis": null}}},
  {"data": {"values": [{}]}, "mark": {"type": "rule", "color": "#444"}, "encoding": {"x": {"datum": 0, "type": "quantitative", "scale": {"domain": [0, 1], "nice": false}, "axis": null}, "y": {"datum": 0, "type": "quantitative", "scale": {"domain": [0, 1], "nice": false}, "axis": null}, "y2": {"datum": 1}}}
 ]},
 {"width": 293, "height": 25, "layer": [
  {"data": {"values": [{}]}, "mark": {"type": "text", "text": "R03WC-P200SR", "fontSize": 25, "color": "#333"}},
  {"data": {"values": [{}]}, "mark": {"type": "rule", "color": "#444"}, "encoding": {"x": {"datum": 0, "type": "quantitative", "scale": {"domain": [0, 1], "nice": false}, "axis": null}, "x2": {"datum": 1}, "y": {"datum": 1, "type": "quantitative", "scale": {"domain": [0, 1], "nice": false}, "axis": null}}},
  {"data": {"values": [{}]}, "mark": {"type": "rule", "color": "#444"}, "encoding": {"x": {"datum": 0, "type": "quantitative", "scale": {"domain": [0, 1], "nice": false}, "axis": null}, "y": {"datum": 0, "type": "quantitative", "scale": {"domain": [0, 1], "nice": false}, "axis": null}, "y2": {"datum": 1}}}
 ]},
 {"width": 300, "height": 25, "layer": [
  {"data": {"values": [{}]}, "mark": {"type": "text", "text": "R03WE-P200S", "fontSize": 25, "color": "#333"}},
  {"data": {"values": [{}]}, "mark": {"type": "rule", "color": "#444"}, "encoding": {"x": {"datum": 0, "type": "quantitative", "scale": {"domain": [0, 1], "nice": false}, "axis": null}, "x2": {"datum": 1}, "y": {"datum": 1, "type": "quantitative", "scale": {"domain": [0, 1], "nice": false}, "axis": null}}},
  {"data": {"values": [{}]}, "mark": {"type": "rule", "color": "#444"}, "encoding": {"x": {"datum": 0, "type": "quantitative", "scale": {"domain": [0, 1], "nice": false}, "axis": null}, "y": {"datum": 0, "type": "quantitative", "scale": {"domain": [0, 1], "nice": false}, "axis": null}, "y2": {"datum": 1}}}
 ]},
 {"width": 294, "height": 25, "layer": [
  {"data": {"values": [{}]}, "mark": {"type": "text", "text": "R03WE-P200SR", "fontSize": 25, "color": "#333"}},
  {"data": {"values": [{}]}, "mark": {"type": "rule", "color": "#444"}, "encoding": {"x": {"datum": 0, "type": "quantitative", "scale": {"domain": [0, 1], "nice": false}, "axis": null}, "x2": {"datum": 1}, "y": {"datum": 1, "type": "quantitative", "scale": {"domain": [0, 1], "nice": false}, "axis": null}}},
  {"data": {"values": [{}]}, "mark": {"type": "rule", "color": "#444"}, "encoding": {"x": {"datum": 0, "type": "quantitative", "scale": {"domain": [0, 1], "nice": false}, "axis": null}, "y": {"datum": 0, "type": "quantitative", "scale": {"domain": [0, 1], "nice": false}, "axis": null}, "y2": {"datum": 1}}}
 ]},
 {"width": 49, "height": 239, "layer": [
  {"data": {"values": [{}]}, "mark": {"type": "text", "text": "V-R curve", "angle": 270, "fontSize": 26, "color": "#333", "dy": -5}},
  {"data": {"values": [{}]}, "mark": {"type": "rule", "color": "#444"}, "encoding": {"x": {"datum": 0, "type": "quantitative", "scale": {"domain": [0, 1], "nice": false}, "axis": null}, "x2": {"datum": 1}, "y": {"datum": 1, "type": "quantitative", "scale": {"domain": [0, 1], "nice": false}, "axis": null}}}
 ]},
 {"width": 326, "height": 239, "layer": [
   {"data": {"name": "vr1"}, "mark": {"type": "line", "interpolate": "catmull-rom", "strokeWidth": 1, "color": "#111"}, "encoding": {"x": {"field": "x", "type": "quantitative", "scale": {"domain": [-9.6842, 7.4737], "nice": false, "zero": false}, "axis": null}, "y": {"field": "y", "type": "quantitative", "scale": {"domain": [-530.7, 517.54], "nice": false, "zero": false}, "axis": null}, "order": {"value": null}}},
   {"data": {"name": "vrBox"}, "mark": {"type": "rect", "filled": false, "color": "#111", "strokeWidth": 1.2}, "encoding": {"x": {"field": "x", "type": "quantitative", "axis": null}, "x2": {"field": "x2"}, "y": {"field": "y", "type": "quantitative", "axis": null}, "y2": {"field": "y2"}}},
   {"data": {"name": "vrZero"}, "mark": {"type": "rule", "color": "#111", "strokeWidth": 0.8}, "encoding": {"x": {"field": "x", "type": "quantitative", "axis": null}, "x2": {"field": "x2"}, "y": {"field": "y", "type": "quantitative", "axis": null}, "y2": {"field": "y2"}}},
   {"data": {"name": "vrDash"}, "mark": {"type": "rule", "color": "#000", "strokeWidth": 2.4, "strokeDash": [19, 8]}, "encoding": {"x": {"field": "x", "type": "quantitative", "axis": null}, "x2": {"field": "x2"}, "y": {"field": "y", "type": "quantitative", "axis": null}, "y2": {"field": "y2"}}},
   {"data": {"name": "tx"}, "mark": {"type": "rule", "color": "#111", "y2Offset": -13}, "encoding": {"x": {"field": "v", "type": "quantitative", "axis": null}, "y": {"datum": -500, "type": "quantitative", "axis": null}, "y2": {"datum": -500}}},
   {"data": {"name": "t1y"}, "mark": {"type": "rule", "color": "#111", "x2Offset": 13}, "encoding": {"y": {"field": "v", "type": "quantitative", "axis": null}, "x": {"datum": -6, "type": "quantitative", "axis": null}, "x2": {"datum": -6}}},
   {"data": {"name": "l1y"}, "mark": {"type": "text", "fontSize": 27, "align": "right", "baseline": "middle", "dx": -6, "color": "#111"}, "encoding": {"y": {"field": "v", "type": "quantitative", "axis": null}, "x": {"datum": -6, "type": "quantitative", "axis": null}, "text": {"field": "v", "type": "nominal"}}},
   {"data": {"values": [{}]}, "mark": {"type": "text", "text": "V(kN)", "fontSize": 26, "align": "left", "baseline": "middle", "color": "#111"}, "encoding": {"x": {"datum": -5.8, "type": "quantitative", "axis": null}, "y": {"datum": 414, "type": "quantitative", "axis": null}}},
   {"data": {"values": [{}]}, "mark": {"type": "text", "text": ["Flexural", "strength of", "column only"], "fontSize": 20, "lineHeight": 23, "align": "center", "baseline": "middle", "color": "#333"}, "encoding": {"x": {"datum": 3.0, "type": "quantitative", "axis": null}, "y": {"datum": -162, "type": "quantitative", "axis": null}}},
   {"data": {"values": [{}]}, "mark": {"type": "rule", "color": "#111", "strokeWidth": 1}, "encoding": {"x": {"datum": 3.62, "type": "quantitative", "axis": null}, "x2": {"datum": 5.28}, "y": {"datum": -93, "type": "quantitative", "axis": null}, "y2": {"datum": 85}}},
   {"data": {"values": [{}]}, "mark": {"type": "point", "shape": "triangle-up", "angle": 38, "size": 40, "filled": true, "color": "#111", "opacity": 1}, "encoding": {"x": {"datum": 5.28, "type": "quantitative", "axis": null}, "y": {"datum": 85, "type": "quantitative", "axis": null}}},
   {"data": {"values": [{}]}, "mark": {"type": "rule", "color": "#444"}, "encoding": {"x": {"datum": -9.6842, "type": "quantitative", "axis": null}, "x2": {"datum": 7.4737}, "y": {"datum": 517.54, "type": "quantitative", "axis": null}}},
   {"data": {"values": [{}]}, "mark": {"type": "rule", "color": "#444"}, "encoding": {"x": {"datum": -9.6842, "type": "quantitative", "axis": null}, "y": {"datum": -530.7, "type": "quantitative", "axis": null}, "y2": {"datum": 517.54}}}
 ]},
 {"width": 293, "height": 239, "layer": [
   {"data": {"name": "vr2"}, "mark": {"type": "line", "interpolate": "catmull-rom", "strokeWidth": 1, "color": "#111"}, "encoding": {"x": {"field": "x", "type": "quantitative", "scale": {"domain": [-7.6916, 7.7974], "nice": false, "zero": false}, "axis": null}, "y": {"field": "y", "type": "quantitative", "scale": {"domain": [-530.7, 517.54], "nice": false, "zero": false}, "axis": null}, "order": {"value": null}}},
   {"data": {"name": "vrBox"}, "mark": {"type": "rect", "filled": false, "color": "#111", "strokeWidth": 1.2}, "encoding": {"x": {"field": "x", "type": "quantitative", "axis": null}, "x2": {"field": "x2"}, "y": {"field": "y", "type": "quantitative", "axis": null}, "y2": {"field": "y2"}}},
   {"data": {"name": "vrZero"}, "mark": {"type": "rule", "color": "#111", "strokeWidth": 0.8}, "encoding": {"x": {"field": "x", "type": "quantitative", "axis": null}, "x2": {"field": "x2"}, "y": {"field": "y", "type": "quantitative", "axis": null}, "y2": {"field": "y2"}}},
   {"data": {"name": "vrDash"}, "mark": {"type": "rule", "color": "#000", "strokeWidth": 2.4, "strokeDash": [19, 8]}, "encoding": {"x": {"field": "x", "type": "quantitative", "axis": null}, "x2": {"field": "x2"}, "y": {"field": "y", "type": "quantitative", "axis": null}, "y2": {"field": "y2"}}},
   {"data": {"name": "tx"}, "mark": {"type": "rule", "color": "#111", "y2Offset": -13}, "encoding": {"x": {"field": "v", "type": "quantitative", "axis": null}, "y": {"datum": -500, "type": "quantitative", "axis": null}, "y2": {"datum": -500}}},
   {"data": {"name": "t1y"}, "mark": {"type": "rule", "color": "#111", "x2Offset": 13}, "encoding": {"y": {"field": "v", "type": "quantitative", "axis": null}, "x": {"datum": -6, "type": "quantitative", "axis": null}, "x2": {"datum": -6}}},
   {"data": {"values": [{}]}, "mark": {"type": "rule", "color": "#444"}, "encoding": {"x": {"datum": -7.6916, "type": "quantitative", "axis": null}, "x2": {"datum": 7.7974}, "y": {"datum": 517.54, "type": "quantitative", "axis": null}}},
   {"data": {"values": [{}]}, "mark": {"type": "rule", "color": "#444"}, "encoding": {"x": {"datum": -7.6916, "type": "quantitative", "axis": null}, "y": {"datum": -530.7, "type": "quantitative", "axis": null}, "y2": {"datum": 517.54}}}
 ]},
 {"width": 300, "height": 239, "layer": [
   {"data": {"name": "vr3"}, "mark": {"type": "line", "interpolate": "catmull-rom", "strokeWidth": 1, "color": "#111"}, "encoding": {"x": {"field": "x", "type": "quantitative", "scale": {"domain": [-7.7143, 7.8701], "nice": false, "zero": false}, "axis": null}, "y": {"field": "y", "type": "quantitative", "scale": {"domain": [-530.7, 517.54], "nice": false, "zero": false}, "axis": null}, "order": {"value": null}}},
   {"data": {"name": "vrBox"}, "mark": {"type": "rect", "filled": false, "color": "#111", "strokeWidth": 1.2}, "encoding": {"x": {"field": "x", "type": "quantitative", "axis": null}, "x2": {"field": "x2"}, "y": {"field": "y", "type": "quantitative", "axis": null}, "y2": {"field": "y2"}}},
   {"data": {"name": "vrZero"}, "mark": {"type": "rule", "color": "#111", "strokeWidth": 0.8}, "encoding": {"x": {"field": "x", "type": "quantitative", "axis": null}, "x2": {"field": "x2"}, "y": {"field": "y", "type": "quantitative", "axis": null}, "y2": {"field": "y2"}}},
   {"data": {"name": "vrDash"}, "mark": {"type": "rule", "color": "#000", "strokeWidth": 2.4, "strokeDash": [19, 8]}, "encoding": {"x": {"field": "x", "type": "quantitative", "axis": null}, "x2": {"field": "x2"}, "y": {"field": "y", "type": "quantitative", "axis": null}, "y2": {"field": "y2"}}},
   {"data": {"name": "tx"}, "mark": {"type": "rule", "color": "#111", "y2Offset": -13}, "encoding": {"x": {"field": "v", "type": "quantitative", "axis": null}, "y": {"datum": -500, "type": "quantitative", "axis": null}, "y2": {"datum": -500}}},
   {"data": {"name": "t1y"}, "mark": {"type": "rule", "color": "#111", "x2Offset": 13}, "encoding": {"y": {"field": "v", "type": "quantitative", "axis": null}, "x": {"datum": -6, "type": "quantitative", "axis": null}, "x2": {"datum": -6}}},
   {"data": {"values": [{}]}, "mark": {"type": "rule", "color": "#444"}, "encoding": {"x": {"datum": -7.7143, "type": "quantitative", "axis": null}, "x2": {"datum": 7.8701}, "y": {"datum": 517.54, "type": "quantitative", "axis": null}}},
   {"data": {"values": [{}]}, "mark": {"type": "rule", "color": "#444"}, "encoding": {"x": {"datum": -7.7143, "type": "quantitative", "axis": null}, "y": {"datum": -530.7, "type": "quantitative", "axis": null}, "y2": {"datum": 517.54}}}
 ]},
 {"width": 294, "height": 239, "layer": [
   {"data": {"name": "vr4"}, "mark": {"type": "line", "interpolate": "catmull-rom", "strokeWidth": 1, "color": "#111"}, "encoding": {"x": {"field": "x", "type": "quantitative", "scale": {"domain": [-7.6174, 7.7217], "nice": false, "zero": false}, "axis": null}, "y": {"field": "y", "type": "quantitative", "scale": {"domain": [-530.7, 517.54], "nice": false, "zero": false}, "axis": null}, "order": {"value": null}}},
   {"data": {"name": "vrBox"}, "mark": {"type": "rect", "filled": false, "color": "#111", "strokeWidth": 1.2}, "encoding": {"x": {"field": "x", "type": "quantitative", "axis": null}, "x2": {"field": "x2"}, "y": {"field": "y", "type": "quantitative", "axis": null}, "y2": {"field": "y2"}}},
   {"data": {"name": "vrZero"}, "mark": {"type": "rule", "color": "#111", "strokeWidth": 0.8}, "encoding": {"x": {"field": "x", "type": "quantitative", "axis": null}, "x2": {"field": "x2"}, "y": {"field": "y", "type": "quantitative", "axis": null}, "y2": {"field": "y2"}}},
   {"data": {"name": "vrDash"}, "mark": {"type": "rule", "color": "#000", "strokeWidth": 2.4, "strokeDash": [19, 8]}, "encoding": {"x": {"field": "x", "type": "quantitative", "axis": null}, "x2": {"field": "x2"}, "y": {"field": "y", "type": "quantitative", "axis": null}, "y2": {"field": "y2"}}},
   {"data": {"name": "tx"}, "mark": {"type": "rule", "color": "#111", "y2Offset": -13}, "encoding": {"x": {"field": "v", "type": "quantitative", "axis": null}, "y": {"datum": -500, "type": "quantitative", "axis": null}, "y2": {"datum": -500}}},
   {"data": {"name": "t1y"}, "mark": {"type": "rule", "color": "#111", "x2Offset": 13}, "encoding": {"y": {"field": "v", "type": "quantitative", "axis": null}, "x": {"datum": -6, "type": "quantitative", "axis": null}, "x2": {"datum": -6}}},
   {"data": {"values": [{}]}, "mark": {"type": "rule", "color": "#444"}, "encoding": {"x": {"datum": -7.6174, "type": "quantitative", "axis": null}, "x2": {"datum": 7.7217}, "y": {"datum": 517.54, "type": "quantitative", "axis": null}}},
   {"data": {"values": [{}]}, "mark": {"type": "rule", "color": "#444"}, "encoding": {"x": {"datum": -7.6174, "type": "quantitative", "axis": null}, "y": {"datum": -530.7, "type": "quantitative", "axis": null}, "y2": {"datum": 517.54}}}
 ]},
 {"width": 49, "height": 264, "layer": [
  {"data": {"values": [{}]}, "mark": {"type": "text", "text": "εᵥ-R curve", "angle": 270, "fontSize": 26, "color": "#333", "dy": -5}},
  {"data": {"values": [{}]}, "mark": {"type": "rule", "color": "#444"}, "encoding": {"x": {"datum": 0, "type": "quantitative", "scale": {"domain": [0, 1], "nice": false}, "axis": null}, "x2": {"datum": 1}, "y": {"datum": 1, "type": "quantitative", "scale": {"domain": [0, 1], "nice": false}, "axis": null}}}
 ]},
 {"width": 326, "height": 264, "layer": [
   {"data": {"name": "ev1"}, "mark": {"type": "line", "interpolate": "catmull-rom", "strokeWidth": 1, "color": "#111"}, "encoding": {"x": {"field": "x", "type": "quantitative", "scale": {"domain": [-9.6842, 7.4737], "nice": false, "zero": false}, "axis": null}, "y": {"field": "y", "type": "quantitative", "scale": {"domain": [-0.3084, 2.5991], "nice": false, "zero": false}, "axis": null}, "order": {"value": null}}},
   {"data": {"name": "evBox"}, "mark": {"type": "rect", "filled": false, "color": "#111", "strokeWidth": 1.2}, "encoding": {"x": {"field": "x", "type": "quantitative", "axis": null}, "x2": {"field": "x2"}, "y": {"field": "y", "type": "quantitative", "axis": null}, "y2": {"field": "y2"}}},
   {"data": {"name": "evZero"}, "mark": {"type": "rule", "color": "#111", "strokeWidth": 0.8}, "encoding": {"x": {"field": "x", "type": "quantitative", "axis": null}, "x2": {"field": "x2"}, "y": {"field": "y", "type": "quantitative", "axis": null}, "y2": {"field": "y2"}}},
   {"data": {"name": "tx"}, "mark": {"type": "rule", "color": "#111", "y2Offset": -12}, "encoding": {"x": {"field": "v", "type": "quantitative", "axis": null}, "y": {"datum": 0, "type": "quantitative", "axis": null}, "y2": {"datum": 0}}},
   {"data": {"name": "t2y"}, "mark": {"type": "rule", "color": "#111", "x2Offset": 13}, "encoding": {"y": {"field": "v", "type": "quantitative", "axis": null}, "x": {"datum": -6, "type": "quantitative", "axis": null}, "x2": {"datum": -6}}},
   {"data": {"name": "l2x"}, "mark": {"type": "text", "fontSize": 27, "align": "center", "baseline": "top", "dy": 0.5, "color": "#111"}, "encoding": {"x": {"field": "v", "type": "quantitative", "axis": null}, "y": {"datum": 0, "type": "quantitative", "axis": null}, "text": {"field": "v", "type": "nominal"}}},
   {"data": {"name": "l2y"}, "mark": {"type": "text", "fontSize": 27, "align": "right", "baseline": "middle", "dx": -6, "color": "#111"}, "encoding": {"y": {"field": "v", "type": "quantitative", "axis": null}, "x": {"datum": -6, "type": "quantitative", "axis": null}, "text": {"field": "v", "type": "nominal"}}},
   {"data": {"values": [{}]}, "mark": {"type": "text", "text": "εv(%)", "fontSize": 25, "align": "left", "baseline": "middle", "color": "#111"}, "encoding": {"x": {"datum": -5.7, "type": "quantitative", "axis": null}, "y": {"datum": 2.28, "type": "quantitative", "axis": null}}},
   {"data": {"values": [{}]}, "mark": {"type": "text", "text": "R(%)", "fontSize": 27, "align": "right", "baseline": "middle", "dx": -3, "color": "#111"}, "encoding": {"x": {"datum": 6, "type": "quantitative", "axis": null}, "y": {"datum": 0.24, "type": "quantitative", "axis": null}}},
   {"data": {"values": [{}]}, "mark": {"type": "rule", "color": "#444"}, "encoding": {"x": {"datum": -9.6842, "type": "quantitative", "axis": null}, "x2": {"datum": 7.4737}, "y": {"datum": 2.5991, "type": "quantitative", "axis": null}}},
   {"data": {"values": [{}]}, "mark": {"type": "rule", "color": "#444"}, "encoding": {"x": {"datum": -9.6842, "type": "quantitative", "axis": null}, "y": {"datum": -0.3084, "type": "quantitative", "axis": null}, "y2": {"datum": 2.5991}}}
 ]},
 {"width": 293, "height": 264, "layer": [
   {"data": {"name": "ev2"}, "mark": {"type": "line", "interpolate": "catmull-rom", "strokeWidth": 1, "color": "#111"}, "encoding": {"x": {"field": "x", "type": "quantitative", "scale": {"domain": [-7.6916, 7.7974], "nice": false, "zero": false}, "axis": null}, "y": {"field": "y", "type": "quantitative", "scale": {"domain": [-0.3084, 2.5991], "nice": false, "zero": false}, "axis": null}, "order": {"value": null}}},
   {"data": {"name": "evBox"}, "mark": {"type": "rect", "filled": false, "color": "#111", "strokeWidth": 1.2}, "encoding": {"x": {"field": "x", "type": "quantitative", "axis": null}, "x2": {"field": "x2"}, "y": {"field": "y", "type": "quantitative", "axis": null}, "y2": {"field": "y2"}}},
   {"data": {"name": "evZero"}, "mark": {"type": "rule", "color": "#111", "strokeWidth": 0.8}, "encoding": {"x": {"field": "x", "type": "quantitative", "axis": null}, "x2": {"field": "x2"}, "y": {"field": "y", "type": "quantitative", "axis": null}, "y2": {"field": "y2"}}},
   {"data": {"name": "tx"}, "mark": {"type": "rule", "color": "#111", "y2Offset": -12}, "encoding": {"x": {"field": "v", "type": "quantitative", "axis": null}, "y": {"datum": 0, "type": "quantitative", "axis": null}, "y2": {"datum": 0}}},
   {"data": {"name": "t2y"}, "mark": {"type": "rule", "color": "#111", "x2Offset": 13}, "encoding": {"y": {"field": "v", "type": "quantitative", "axis": null}, "x": {"datum": -6, "type": "quantitative", "axis": null}, "x2": {"datum": -6}}},
   {"data": {"name": "l2x"}, "mark": {"type": "text", "fontSize": 27, "align": "center", "baseline": "top", "dy": 0.5, "color": "#111"}, "encoding": {"x": {"field": "v", "type": "quantitative", "axis": null}, "y": {"datum": 0, "type": "quantitative", "axis": null}, "text": {"field": "v", "type": "nominal"}}},
   {"data": {"values": [{}]}, "mark": {"type": "text", "text": "R(%)", "fontSize": 27, "align": "right", "baseline": "middle", "dx": -3, "color": "#111"}, "encoding": {"x": {"datum": 6, "type": "quantitative", "axis": null}, "y": {"datum": 0.27, "type": "quantitative", "axis": null}}},
   {"data": {"values": [{}]}, "mark": {"type": "rule", "color": "#444"}, "encoding": {"x": {"datum": -7.6916, "type": "quantitative", "axis": null}, "x2": {"datum": 7.7974}, "y": {"datum": 2.5991, "type": "quantitative", "axis": null}}},
   {"data": {"values": [{}]}, "mark": {"type": "rule", "color": "#444"}, "encoding": {"x": {"datum": -7.6916, "type": "quantitative", "axis": null}, "y": {"datum": -0.3084, "type": "quantitative", "axis": null}, "y2": {"datum": 2.5991}}}
 ]},
 {"width": 300, "height": 264, "layer": [
   {"data": {"name": "ev3"}, "mark": {"type": "line", "interpolate": "catmull-rom", "strokeWidth": 1, "color": "#111"}, "encoding": {"x": {"field": "x", "type": "quantitative", "scale": {"domain": [-7.7143, 7.8701], "nice": false, "zero": false}, "axis": null}, "y": {"field": "y", "type": "quantitative", "scale": {"domain": [-0.3084, 2.5991], "nice": false, "zero": false}, "axis": null}, "order": {"value": null}}},
   {"data": {"name": "evBox"}, "mark": {"type": "rect", "filled": false, "color": "#111", "strokeWidth": 1.2}, "encoding": {"x": {"field": "x", "type": "quantitative", "axis": null}, "x2": {"field": "x2"}, "y": {"field": "y", "type": "quantitative", "axis": null}, "y2": {"field": "y2"}}},
   {"data": {"name": "evZero"}, "mark": {"type": "rule", "color": "#111", "strokeWidth": 0.8}, "encoding": {"x": {"field": "x", "type": "quantitative", "axis": null}, "x2": {"field": "x2"}, "y": {"field": "y", "type": "quantitative", "axis": null}, "y2": {"field": "y2"}}},
   {"data": {"name": "tx"}, "mark": {"type": "rule", "color": "#111", "y2Offset": -12}, "encoding": {"x": {"field": "v", "type": "quantitative", "axis": null}, "y": {"datum": 0, "type": "quantitative", "axis": null}, "y2": {"datum": 0}}},
   {"data": {"name": "t2y"}, "mark": {"type": "rule", "color": "#111", "x2Offset": 13}, "encoding": {"y": {"field": "v", "type": "quantitative", "axis": null}, "x": {"datum": -6, "type": "quantitative", "axis": null}, "x2": {"datum": -6}}},
   {"data": {"name": "l2x"}, "mark": {"type": "text", "fontSize": 27, "align": "center", "baseline": "top", "dy": 0.5, "color": "#111"}, "encoding": {"x": {"field": "v", "type": "quantitative", "axis": null}, "y": {"datum": 0, "type": "quantitative", "axis": null}, "text": {"field": "v", "type": "nominal"}}},
   {"data": {"values": [{}]}, "mark": {"type": "text", "text": "R(%)", "fontSize": 27, "align": "right", "baseline": "middle", "dx": -3, "color": "#111"}, "encoding": {"x": {"datum": 6, "type": "quantitative", "axis": null}, "y": {"datum": 0.24, "type": "quantitative", "axis": null}}},
   {"data": {"values": [{}]}, "mark": {"type": "rule", "color": "#444"}, "encoding": {"x": {"datum": -7.7143, "type": "quantitative", "axis": null}, "x2": {"datum": 7.8701}, "y": {"datum": 2.5991, "type": "quantitative", "axis": null}}},
   {"data": {"values": [{}]}, "mark": {"type": "rule", "color": "#444"}, "encoding": {"x": {"datum": -7.7143, "type": "quantitative", "axis": null}, "y": {"datum": -0.3084, "type": "quantitative", "axis": null}, "y2": {"datum": 2.5991}}}
 ]},
 {"width": 294, "height": 264, "layer": [
   {"data": {"name": "ev4"}, "mark": {"type": "line", "interpolate": "catmull-rom", "strokeWidth": 1, "color": "#111"}, "encoding": {"x": {"field": "x", "type": "quantitative", "scale": {"domain": [-7.6174, 7.7217], "nice": false, "zero": false}, "axis": null}, "y": {"field": "y", "type": "quantitative", "scale": {"domain": [-0.3084, 2.5991], "nice": false, "zero": false}, "axis": null}, "order": {"value": null}}},
   {"data": {"name": "evBox"}, "mark": {"type": "rect", "filled": false, "color": "#111", "strokeWidth": 1.2}, "encoding": {"x": {"field": "x", "type": "quantitative", "axis": null}, "x2": {"field": "x2"}, "y": {"field": "y", "type": "quantitative", "axis": null}, "y2": {"field": "y2"}}},
   {"data": {"name": "evZero"}, "mark": {"type": "rule", "color": "#111", "strokeWidth": 0.8}, "encoding": {"x": {"field": "x", "type": "quantitative", "axis": null}, "x2": {"field": "x2"}, "y": {"field": "y", "type": "quantitative", "axis": null}, "y2": {"field": "y2"}}},
   {"data": {"name": "tx"}, "mark": {"type": "rule", "color": "#111", "y2Offset": -12}, "encoding": {"x": {"field": "v", "type": "quantitative", "axis": null}, "y": {"datum": 0, "type": "quantitative", "axis": null}, "y2": {"datum": 0}}},
   {"data": {"name": "t2y"}, "mark": {"type": "rule", "color": "#111", "x2Offset": 13}, "encoding": {"y": {"field": "v", "type": "quantitative", "axis": null}, "x": {"datum": -6, "type": "quantitative", "axis": null}, "x2": {"datum": -6}}},
   {"data": {"name": "l2x"}, "mark": {"type": "text", "fontSize": 27, "align": "center", "baseline": "top", "dy": 0.5, "color": "#111"}, "encoding": {"x": {"field": "v", "type": "quantitative", "axis": null}, "y": {"datum": 0, "type": "quantitative", "axis": null}, "text": {"field": "v", "type": "nominal"}}},
   {"data": {"values": [{}]}, "mark": {"type": "text", "text": "R(%)", "fontSize": 27, "align": "right", "baseline": "middle", "dx": -3, "color": "#111"}, "encoding": {"x": {"datum": 6, "type": "quantitative", "axis": null}, "y": {"datum": 0.23, "type": "quantitative", "axis": null}}},
   {"data": {"values": [{}]}, "mark": {"type": "rule", "color": "#444"}, "encoding": {"x": {"datum": -7.6174, "type": "quantitative", "axis": null}, "x2": {"datum": 7.7217}, "y": {"datum": 2.5991, "type": "quantitative", "axis": null}}},
   {"data": {"values": [{}]}, "mark": {"type": "rule", "color": "#444"}, "encoding": {"x": {"datum": -7.6174, "type": "quantitative", "axis": null}, "y": {"datum": -0.3084, "type": "quantitative", "axis": null}, "y2": {"datum": 2.5991}}}
 ]}
]
}
